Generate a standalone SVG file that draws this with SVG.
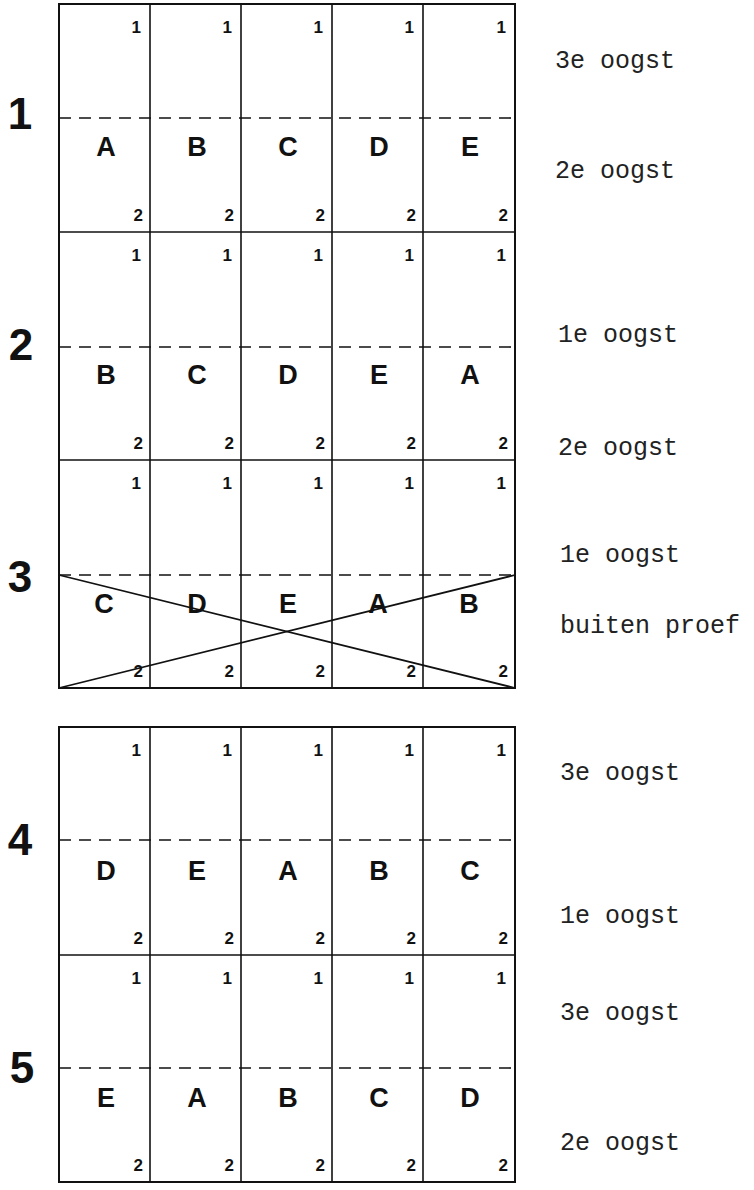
<svg xmlns="http://www.w3.org/2000/svg" width="754" height="1190" viewBox="0 0 754 1190">
<style>
.frame{fill:none;stroke:#111;stroke-width:2}
.ln{stroke:#111;stroke-width:1.6;fill:none}
.dash{stroke:#111;stroke-width:1.6;stroke-dasharray:12 8;fill:none}
.diag{stroke:#111;stroke-width:1.8;fill:none}
.big{font-family:"Liberation Sans","DejaVu Sans",sans-serif;font-weight:bold;font-size:44px;fill:#111;text-anchor:middle}
.let{font-family:"Liberation Sans","DejaVu Sans",sans-serif;font-weight:bold;font-size:27px;fill:#111;text-anchor:middle}
.num{font-family:"Liberation Sans","DejaVu Sans",sans-serif;font-weight:bold;font-size:17px;fill:#111;text-anchor:end}
.note{font-family:"Liberation Mono","DejaVu Sans Mono",monospace;font-size:25px;fill:#222}
</style>
<rect width="754" height="1190" fill="#fff"/>

<g id="block-top">
  <rect class="frame" x="59" y="4" width="456" height="684"/>
  <line class="ln" x1="59" y1="232" x2="515" y2="232"/>
  <line class="ln" x1="59" y1="460" x2="515" y2="460"/>
  <line class="ln" x1="150" y1="4" x2="150" y2="688"/>
  <line class="ln" x1="241" y1="4" x2="241" y2="688"/>
  <line class="ln" x1="332" y1="4" x2="332" y2="688"/>
  <line class="ln" x1="423" y1="4" x2="423" y2="688"/>
</g>
<g id="block-bottom">
  <rect class="frame" x="59" y="727" width="456" height="455"/>
  <line class="ln" x1="59" y1="955" x2="515" y2="955"/>
  <line class="ln" x1="150" y1="727" x2="150" y2="1182"/>
  <line class="ln" x1="241" y1="727" x2="241" y2="1182"/>
  <line class="ln" x1="332" y1="727" x2="332" y2="1182"/>
  <line class="ln" x1="423" y1="727" x2="423" y2="1182"/>
</g>

<g id="row1">
  <line class="dash" x1="59" y1="118" x2="515" y2="118"/>
  <text class="big" x="20" y="129">1</text>
  <text class="let" x="106" y="156">A</text>
  <text class="let" x="197" y="156">B</text>
  <text class="let" x="288" y="156">C</text>
  <text class="let" x="379" y="156">D</text>
  <text class="let" x="470" y="156">E</text>
  <g class="num">
    <text x="141" y="33">1</text><text x="232" y="33">1</text><text x="323" y="33">1</text><text x="414" y="33">1</text><text x="506" y="33">1</text>
    <text x="143" y="221">2</text><text x="234" y="221">2</text><text x="325" y="221">2</text><text x="416" y="221">2</text><text x="508" y="221">2</text>
  </g>
</g>

<g id="row2">
  <line class="dash" x1="59" y1="347" x2="515" y2="347"/>
  <text class="big" x="21" y="360">2</text>
  <text class="let" x="106" y="384">B</text>
  <text class="let" x="197" y="384">C</text>
  <text class="let" x="288" y="384">D</text>
  <text class="let" x="379" y="384">E</text>
  <text class="let" x="470" y="384">A</text>
  <g class="num">
    <text x="141" y="261">1</text><text x="232" y="261">1</text><text x="323" y="261">1</text><text x="414" y="261">1</text><text x="506" y="261">1</text>
    <text x="143" y="449">2</text><text x="234" y="449">2</text><text x="325" y="449">2</text><text x="416" y="449">2</text><text x="508" y="449">2</text>
  </g>
</g>

<g id="row3">
  <line class="dash" x1="59" y1="575" x2="515" y2="575"/>
  <text class="big" x="20" y="592">3</text>
  <text class="let" x="104" y="613">C</text>
  <text class="let" x="197" y="613">D</text>
  <text class="let" x="288" y="613">E</text>
  <text class="let" x="378" y="613">A</text>
  <text class="let" x="469" y="613">B</text>
  <g class="num">
    <text x="141" y="489">1</text><text x="232" y="489">1</text><text x="323" y="489">1</text><text x="414" y="489">1</text><text x="506" y="489">1</text>
    <text x="143" y="677">2</text><text x="234" y="677">2</text><text x="325" y="677">2</text><text x="416" y="677">2</text><text x="508" y="677">2</text>
  </g>
</g>

<g id="row4">
  <line class="dash" x1="59" y1="840" x2="515" y2="840"/>
  <text class="big" x="20" y="855">4</text>
  <text class="let" x="106" y="880">D</text>
  <text class="let" x="197" y="880">E</text>
  <text class="let" x="288" y="880">A</text>
  <text class="let" x="379" y="880">B</text>
  <text class="let" x="470" y="880">C</text>
  <g class="num">
    <text x="141" y="756">1</text><text x="232" y="756">1</text><text x="323" y="756">1</text><text x="414" y="756">1</text><text x="506" y="756">1</text>
    <text x="143" y="944">2</text><text x="234" y="944">2</text><text x="325" y="944">2</text><text x="416" y="944">2</text><text x="508" y="944">2</text>
  </g>
</g>

<g id="row5">
  <line class="dash" x1="59" y1="1068" x2="515" y2="1068"/>
  <text class="big" x="22" y="1083">5</text>
  <text class="let" x="106" y="1107">E</text>
  <text class="let" x="197" y="1107">A</text>
  <text class="let" x="288" y="1107">B</text>
  <text class="let" x="379" y="1107">C</text>
  <text class="let" x="470" y="1107">D</text>
  <g class="num">
    <text x="141" y="984">1</text><text x="232" y="984">1</text><text x="323" y="984">1</text><text x="414" y="984">1</text><text x="506" y="984">1</text>
    <text x="143" y="1171">2</text><text x="234" y="1171">2</text><text x="325" y="1171">2</text><text x="416" y="1171">2</text><text x="508" y="1171">2</text>
  </g>
</g>

<g id="connectors">
  <line class="diag" x1="59" y1="575" x2="515" y2="688"/>
  <line class="diag" x1="59" y1="688" x2="515" y2="575"/>
</g>

<g id="notes">
  <text class="note" x="555" y="68">3e oogst</text>
  <text class="note" x="555" y="178">2e oogst</text>
  <text class="note" x="558" y="342">1e oogst</text>
  <text class="note" x="558" y="455">2e oogst</text>
  <text class="note" x="560" y="562">1e oogst</text>
  <text class="note" x="560" y="633">buiten proef</text>
  <text class="note" x="560" y="780">3e oogst</text>
  <text class="note" x="560" y="923">1e oogst</text>
  <text class="note" x="560" y="1020">3e oogst</text>
  <text class="note" x="560" y="1150">2e oogst</text>
</g>
</svg>
